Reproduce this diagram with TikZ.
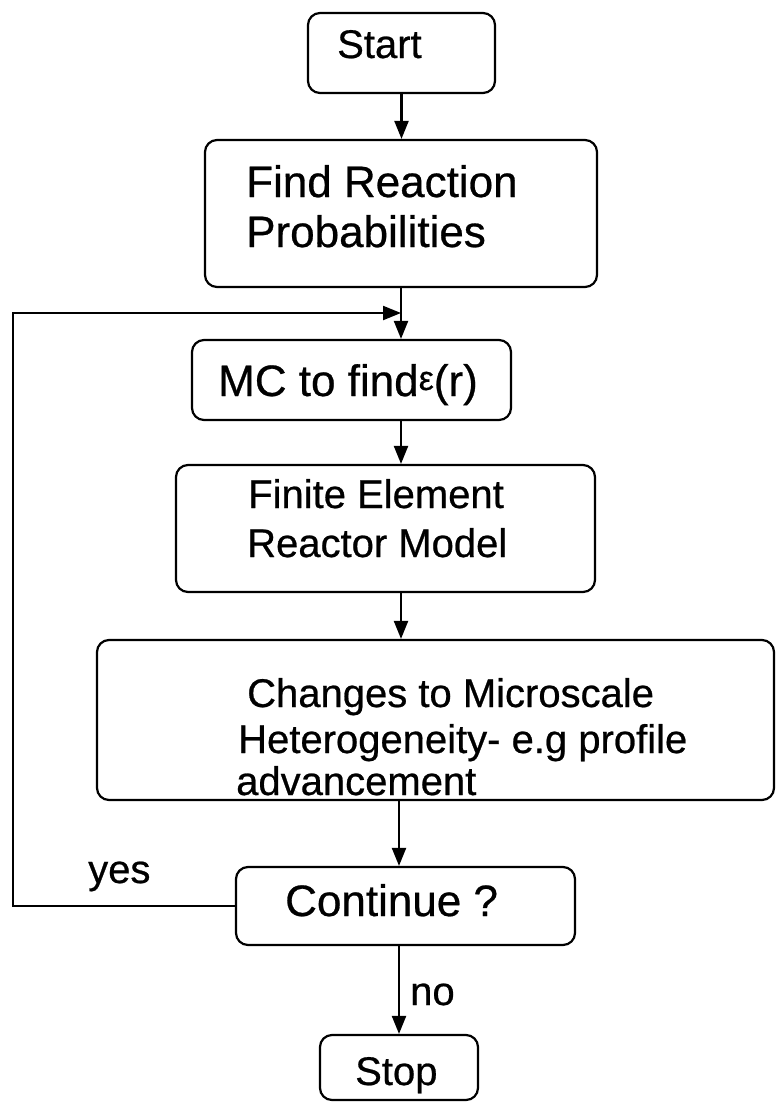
\documentclass[tikz,border=0pt]{standalone}
\usepackage{fontspec}
\setmainfont{Liberation Sans}[FakeBold=0.6]
\usetikzlibrary{arrows.meta}
\tikzset{
  box/.style={draw, line width=2.2pt, rounded corners=12pt, inner sep=0pt},
  lbl/.style={anchor=base west, inner sep=0pt, font=\fontsize{40}{48}\selectfont},
  big/.style={font=\fontsize{44}{52}\selectfont},
  arr/.style={line width=2.2pt, -{Triangle[length=18pt,width=14pt]}},
}
\begin{document}
\begin{tikzpicture}[x=1pt,y=-1pt]
\useasboundingbox (0,0) rectangle (776,1104);
% boxes
\node[box, minimum width=187pt, minimum height=80pt] (start) at (401.5,53) {};
\node[box, minimum width=392pt, minimum height=147pt] (find) at (401,213.5) {};
\node[box, minimum width=319pt, minimum height=80pt] (mc) at (351.5,380) {};
\node[box, minimum width=419pt, minimum height=127pt] (finite) at (385.5,528.5) {};
\node[box, minimum width=677pt, minimum height=160pt] (changes) at (435.5,720) {};
\node[box, minimum width=339pt, minimum height=78pt] (cont) at (405.5,906) {};
\node[box, minimum width=158pt, minimum height=65pt] (stop) at (399,1067.5) {};
% texts
\node[lbl] (tstart) at (337,58) {Start};
\node[lbl, big] (tfind1) at (246,197) {Find Reaction};
\node[lbl, big] (tfind2) at (246,247) {Probabilities};
\node[lbl, big] (tmc) at (218,396) {MC to find{\fontsize{34}{34}\selectfont\raisebox{6pt}{ε}}(r)};
\node[lbl] (tfin1) at (248,508) {Finite Element};
\node[lbl] (tfin2) at (247,557) {Reactor Model};
\node[lbl] (tch1) at (247,707) {Changes to Microscale};
\node[lbl] (tch2) at (238,753) {Heterogeneity- e.g profile};
\node[lbl] (tch3) at (236,795) {advancement};
\node[lbl, big] (tcont) at (285,916) {Continue ?};
\node[lbl] (tyes) at (88,883) {yes};
\node[lbl] (tno) at (410,1005) {no};
\node[lbl] (tstop) at (355,1085) {Stop};
% connectors
\coordinate (lt) at (13,313);
\draw[arr] (start.south) -- (start.south |- find.north);
\draw[arr] (find.south) -- (find.south |- mc.north);
\draw[arr] (mc.south -| find.south) -- (finite.north -| find.south);
\draw[arr] (finite.south -| find.south) -- (changes.north -| find.south);
\draw[arr] (changes.south -| stop.north) -- (cont.north -| stop.north);
\draw[arr] (cont.south -| stop.north) -- (stop.north);
\draw[arr] (cont.west) -- (cont.west -| lt) -- (lt) -- (lt -| find.south);
\end{tikzpicture}
\end{document}
